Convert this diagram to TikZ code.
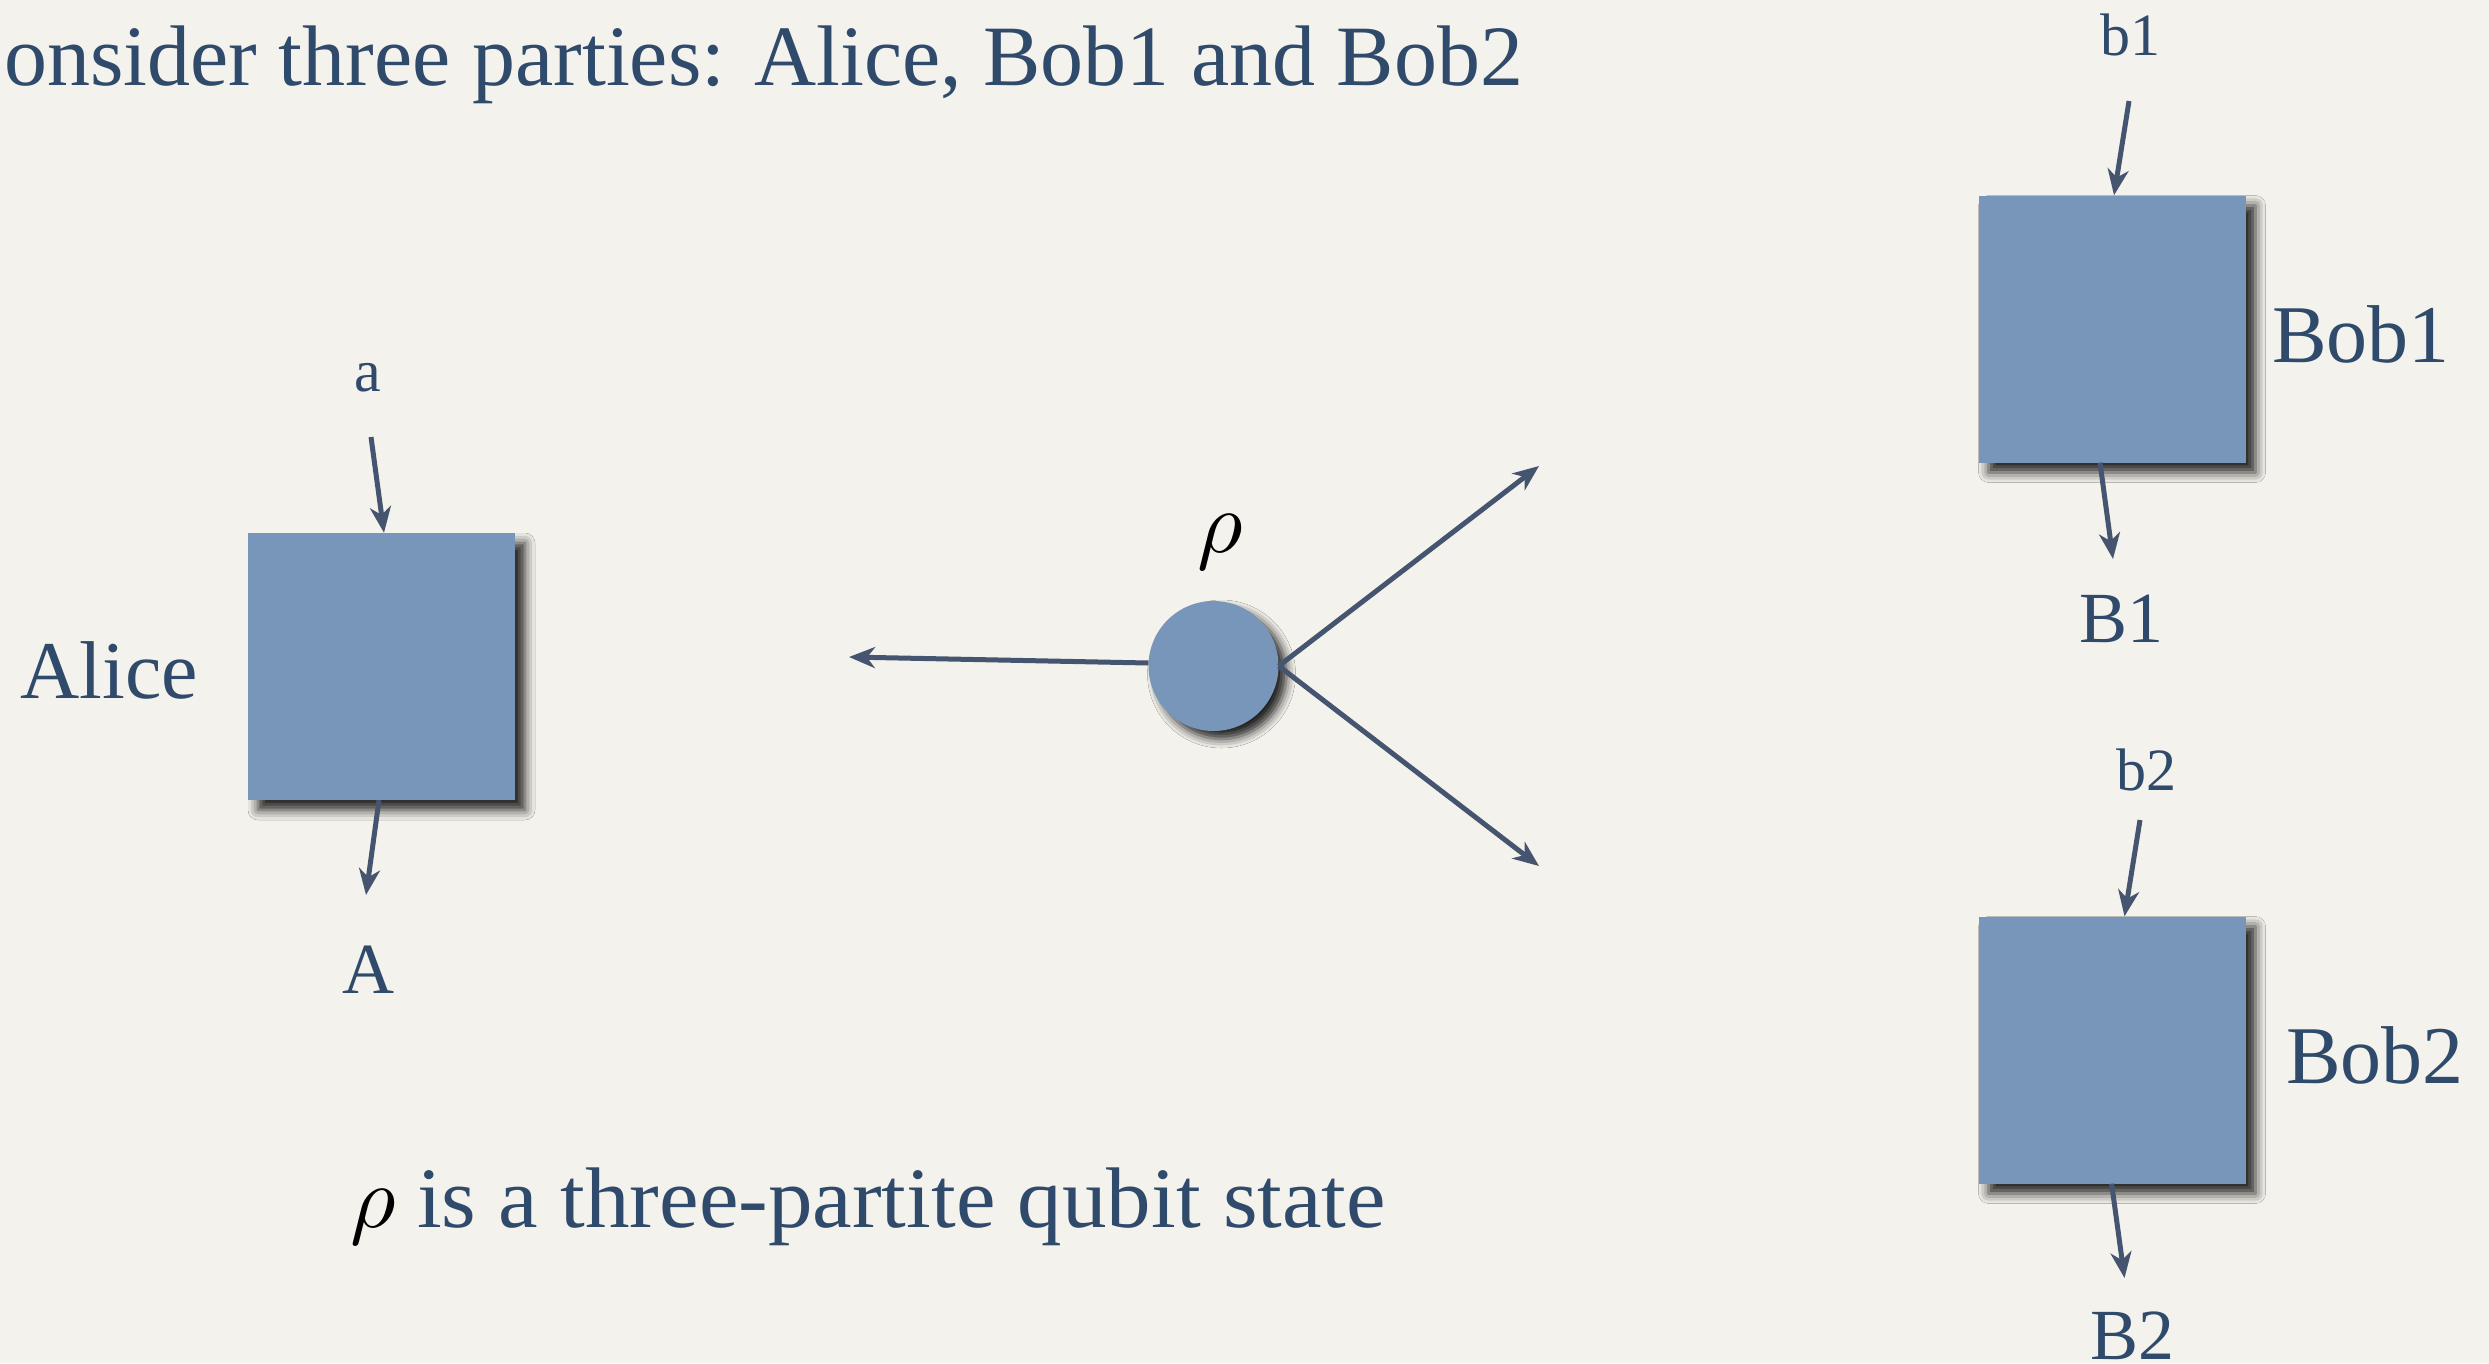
\documentclass[tikz,border=0pt]{standalone}
\usepackage{graphicx}
\usepackage{fontspec}
\setmainfont{Liberation Serif}
\usetikzlibrary{arrows.meta,shadows.blur}
\definecolor{paper}{HTML}{F4F2EC}
\definecolor{boxblue}{HTML}{7895BA}
\definecolor{ink}{HTML}{2F4A6B}
\definecolor{arrowink}{HTML}{46556F}
% density matrix symbol, enlarged to match the surrounding text
\newcommand{\bigrho}{{\normalsize\color{black}\scalebox{8.8}{\(\rho\)}}}

\begin{document}
\begin{tikzpicture}[x=1pt,y=-1pt,
  party/.style={rectangle, minimum size=267pt, inner sep=0pt, fill=boxblue,
    blur shadow={shadow xshift=10pt, shadow yshift=-10pt, shadow blur radius=10pt, shadow opacity=85}},
  statedot/.style={circle, minimum size=130pt, inner sep=0pt, fill=boxblue,
    blur shadow={shadow xshift=8pt, shadow yshift=-8pt, shadow blur radius=9pt, shadow opacity=85}},
  bigtext/.style={text=ink, font=\fontsize{86}{100}\selectfont, inner sep=0pt},
  partyname/.style={text=ink, font=\fontsize{82}{98}\selectfont, inner sep=0pt},
  outlabel/.style={text=ink, font=\fontsize{72}{86}\selectfont, inner sep=0pt},
  inlabel/.style={text=ink, font=\fontsize{60}{72}\selectfont, inner sep=0pt},
  wire/.style={draw=arrowink, line width=5pt, -{Stealth[length=26pt,width=21pt,inset=8pt]}}
]
% page
\fill[paper] (0,0) rectangle (2489,1363);
\useasboundingbox (0,0) rectangle (2489,1363);

% headings
\node[bigtext, anchor=base west] (title) at (4,85) {onsider three parties: Alice, Bob1 and Bob2};
\node[bigtext, anchor=base west] (note) at (350,1227) {\bigrho{} \scalebox{1.035}[1]{is a three-partite qubit state}};

% parties
\node[party] (alice) at (381.5,666.5) {};
\node[party] (bob1) at (2112,329) {};
\node[party] (bob2) at (2112,1050) {};
\node[partyname] (alicename) at (109,670) {Alice};
\node[partyname] (bob1name) at (2361,334) {Bob1};
\node[partyname] (bob2name) at (2375,1055) {Bob2};

% settings and outcomes
\node[inlabel] (a) at (368,378) {a};
\node[outlabel] (A) at (368,970) {A};
\node[inlabel] (b1) at (2130,35) {b1};
\node[outlabel] (B1) at (2121,619) {B1};
\node[inlabel] (b2) at (2146,770) {b2};
\node[outlabel] (B2) at (2132,1336) {B2};

\coordinate (ain) at (371,437);
\coordinate (aout) at (366,895);
\coordinate (b1in) at (2129,101);
\coordinate (b1out) at (2113,559);
\coordinate (b2in) at (2140,820);
\coordinate (b2out) at (2124.5,1278);

\draw[wire] (ain) -- (alice.north -| 384,0);
\draw[wire] (alice.south -| 379,0) -- (aout);
\draw[wire] (b1in) -- (bob1.north -| 2114,0);
\draw[wire] (bob1.south -| 2100,0) -- (b1out);
\draw[wire] (b2in) -- (bob2.north -| 2124.5,0);
\draw[wire] (bob2.south -| 2111.6,0) -- (b2out);

% the shared state and its three subsystems
\node[statedot] (rho) at (1213.5,666) {};
\node[inner sep=0pt] (rholabel) at (1220,542) {\bigrho};
\coordinate (toalice) at (849,657);
\coordinate (tobob1) at (1539,466);
\coordinate (tobob2) at (1539,866);
\draw[wire] (rho.west |- 0,663) -- (toalice);
\draw[wire] (rho.east) -- (tobob1);
\draw[wire] (rho.east) -- (tobob2);
\end{tikzpicture}
\end{document}
